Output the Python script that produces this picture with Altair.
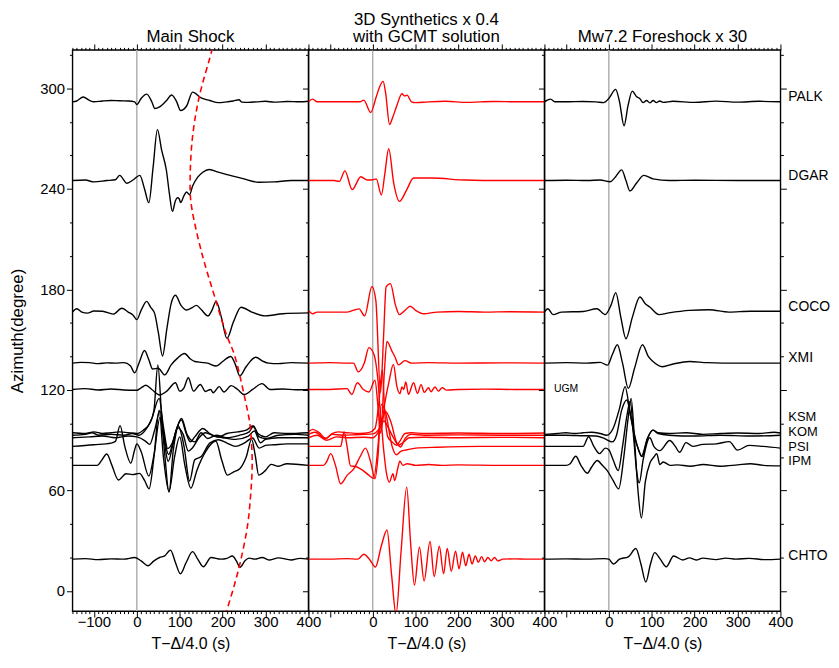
import altair as alt
import pandas as pd

FONT = "Liberation Sans"
W, H = 238, 566

# ---------------- station baselines (azimuth, degree) ----------------
STATIONS = ["PALK", "DGAR", "COCO", "XMI", "UGM", "KSM", "KOM", "KOM_B", "PSI", "IPM", "CHTO"]
BASES = [292, 245, 166.5, 136, 120.3, 94, 93, 91.5, 86.3, 75, 19]

# ---------------- Main shock (black) : time (s), amplitude (degree units) ----------------
PALK_M_T = [-150,-140,-125,-110,-100,-80,-60,-40,-20,-5,0,10,23,35,42,53,70,81,93,102,116,130,150,170,190,210,225,238,245,260,280,300,320,350,380,400]
PALK_M_A = [0,0.5,2.9,0.8,0,0.5,0.8,0.6,0.5,0,-1.7,2,4.6,0,-4,-3,1,4.1,0,-5.2,-2.5,5.8,2.3,0.8,-0.5,0,0.5,1.2,-0.2,-0.3,0,0.3,-0.2,0.2,0,0.3]
DGAR_M_T = [-150,-120,-100,-70,-50,-40,-23,-8,7,18,28,38,48,58,69,76,83,90,95,99,102,110,116,123,130,142,153,169,190,208,245,284,320,360,400]
DGAR_M_A = [0,0.3,-0.8,0,0.5,3.1,-1.6,0.5,3.1,-5,-13.2,8,30.4,18,6,-8,-18.4,-12,-10.3,-11,-13.2,-9,-6.8,-8.5,-3.3,2,4.8,6.6,5,3.7,1.3,-1,-0.8,0,0]
COCO_M_T = [-150,-140,-128,-115,-100,-80,-55,-35,-20,-8,0,10,23,32,42,50,60,70,80,90,103,116,128,139,150,166,175,185,197,210,225,243,268,300,340,400]
COCO_M_A = [0,2,0,-0.6,0.6,0.5,-1.2,2.3,0,-2,-4.5,1,6.4,3,-1.2,-12,-26.2,-10,5,10,4,1.2,2.5,4,1.5,-2.3,1,6.4,-3,-15.7,-6,2.9,0,-2.3,-1,-0.5]
XMI_M_T = [-150,-130,-110,-90,-70,-50,-30,-15,-5,5,18,28,37,50,65,80,95,111,125,135,150,165,185,200,219,230,240,255,277,295,307,330,360,400]
XMI_M_A = [0,0.5,0.3,-0.3,0.2,0,0.3,-1.5,-5.8,0,7.6,2,-3.5,-3,-7,-1,3,5.8,2.5,1,0.5,0,-1.7,1,4,-1,-7.6,-2,3.5,1,0,-0.3,0.3,0]
UGM_M_T = [-150,-120,-90,-60,-30,0,10,21,35,53,70,90,100,110,120,132,148,160,172,178,192,203,220,235,250,270,292,310,340,370,400]
UGM_M_A = [0,0.5,-0.3,0.3,-0.3,-0.5,1,2.5,0,-3.3,-1,4,-1,1,7,-1,3,-1.2,0,-2,1.7,-1.5,2.3,0,-3,0,3.5,0,0.3,-0.2,0]
KSM_M_T = [-150,-120,-100,-80,-60,-40,-20,0,15,30,40,49,58,66,75,85,96,104,115,125,135,154,170,190,210,235,255,270,282,300,320,350,400]
KSM_M_A = [0.5,0,1,0,0.5,1,0.5,0,2,6,14,41,10,-15,-35,-10,5,8,0,-5,-2,3,0,-2,0,1,2,4.5,0,-2,0.5,0,0.5]
KOM_M_T = [-150,-120,-104,-90,-60,-30,-10,5,20,35,52,62,72,82,92,104,118,135,150,165,185,210,240,262,272,285,300,330,370,400]
KOM_M_A = [0,0.5,1.5,0,0.5,0,1,0,3,10,22,5,-8,-5,3,10,0,-4,1.5,-2,0,-1.5,0,2,5.5,-1,-2,0,0.5,0]
KOMB_M_T = [-150,-110,-80,-50,-20,0,20,30,42,54,64,74,85,95,108,120,130,145,160,180,200,230,260,274,288,300,330,400]
KOMB_M_A = [0,0.5,1,0,1,0.5,-2,-4,5,16,0,-10,-2,6,2,-8,-6,0,3,1,0,-1,1,4,-3,-1,0,0]
PSI_M_T = [-150,-100,-60,-50,-39,-28,-14,-5,0,10,28,40,54,64,73,85,96,110,123,135,150,170,190,210,230,250,270,285,300,320,350,400]
PSI_M_A = [0,1,2,3,12.4,0,-10,-2,1.5,-3,-17.7,-5,17.2,3,-9,2,12.5,0,-20.6,-8,-6,2,4,2,0,2,5,-1,0.6,1,1.5,1.5]
IPM_M_T = [-150,-100,-92,-82,-70,-58,-43,-25,-10,6,18,28.5,40,52,62,75,88,100,112,126,140,160,184,198,211,225,240,255,267.5,276,284,300,313,330,350,400]
IPM_M_A = [0,0,0,3,6.8,0,-8.7,-5,-5.5,-4.8,-9,-14,5,33,5,-15.5,5,17,0,-13.6,-3,8,14.5,3,-5.8,-4,-2,5,15.5,6,-5.8,-3,0.6,-0.5,1,0]
CHTO_M_T = [-150,-120,-90,-60,-30,-5,10,26,40,53,65,78.6,90,101.7,115,130,142,155,173,196,210,222.7,232,240.5,252,261.6,275,292,310,330,360,380,400]
CHTO_M_A = [0,0.3,-0.3,0.2,0,1,-1,-3.9,-1,1,2,5.4,-2,-8.7,-2,4.5,0,-4.5,1,0,0.5,1.9,-1,-4.8,-1,0.6,0,1,-0.5,0.8,-0.5,0.5,0]

# ---------------- 3D synthetics (red) ----------------
PALK_S_T = [-150,-140,-130,-100,-60,-30,-21,-5,8,16,24,30,39,46,55,68,74,80,90,100,130,170,220,280,340,400]
PALK_S_A = [0,1.6,0,0,0,0,1,-6.4,3,9,12.2,5,-13.5,-9.5,-3,4.8,3.5,4,0,-0.5,0,0.3,-0.3,0.2,0,0]
DGAR_S_T = [-150,-120,-90,-78,-65,-48,-28,-13,0,8,20,28,37,49,62,79,95,138,215,300,400]
DGAR_S_A = [0,0,0,-0.5,5.8,-5.4,2.3,0.3,0.5,1,-8.6,4,19,-2,-12.4,-5.5,1.5,1.5,0.3,0,0]
COCO_S_T = [-150,-140,-130,-100,-60,-32,-19,-2,7,18,25,31,41,53,62,75,87,100,118,150,200,260,320,400]
COCO_S_A = [1,-1,0,0,0,1.9,-2.3,15.3,7,-48,-15,15,17,4,-1.5,1,3.5,1,-1,0,0.3,0,0.2,0]
XMI_S_T = [-150,-100,-60,-45,-34,-20,-9,3,12,20,27,33,44,52,60,75,90,130,200,300,400]
XMI_S_A = [0,0.3,0,0,-5.2,0,9.3,5,-10,-35,-5,13,7.5,3.5,-1,1.5,0,0.3,0,0.2,0]
UGM_S_T = [-150,-100,-60,-49,-36,-22,-9,5,12,18,28,38,48,56,63,68,72,77,83,95,104,112.5,120,129.5,135.6,145,152.6,161.8,172,200,260,330,400]
UGM_S_A = [0,0,0.5,-3,4,0,-1.5,5.5,-10,-26,-8,5,15,2,-2.5,1.5,0,4.5,-2.9,4,-2.3,2.9,-1.7,1,-1.4,1.5,-1,1,-0.4,0,0.2,0,0]
KSM_S_T = [-150,-140,-125,-109,-95,-80,-60,-30,-10,5,14,22,28,35,45,55,62,75,90,120,200,300,400]
KSM_S_A = [1,2.5,0.5,-3,0,1,0.5,0,0.5,3,18,38,12,-2,-5,-7,-5,0,0.5,0,0.3,0,0.3]
KOM_S_T = [-150,-135,-110,-95,-70,-40,0,15,30,42,55,65,75,90,120,200,300,400]
KOM_S_A = [0.5,1.8,-2,0.5,0,0.3,0.8,4,14,8,-4,-7,-2,0.5,0,0.2,0,0]
KOMB_S_T = [-150,-130,-108,-85,-60,-20,0,12,26,36,48,60,70,85,120,200,300,400]
KOMB_S_A = [0,1.5,-1.5,0.5,0,0.3,0,3,10,6,0,-4.5,-3,0,0.3,0,0.2,0]
PSI_S_T = [-150,-100,-75,-67,-60,-52,-40,-25,-10,2,12,20,30,45,55,65,80,100,150,250,400]
PSI_S_A = [0,0,0,8.7,0,-11.6,-12,-14,-17,-19,0,25,20,0,-5,-3,-2,-1,-0.5,0,0]
IPM_S_T = [-150,-115,-108,-98,-87,-75,-60,-44,-30,-17,-5,5,12,18,25,32,38.6,47,51,58,63,70,80,100,130,160,200,300,400]
IPM_S_A = [0,0,2,7,0,-11,-6,-2,5,10.3,2,-8,5,28,10,-5,-10,-5,-9,-2,2.5,0,1,0,0.5,0,0.3,0,0]
CHTO_S_T = [-150,-100,-60,-35,-21,-8,6,20,33,44,54,66,79,88,97,108.7,119.5,133.4,143,155,165,173.4,183,192.7,201,209,216.6,224.3,231.2,238.9,245.9,253.6,260.5,268.2,275.9,283.6,291.3,303,330,360,400]
CHTO_S_A = [0,0,0.3,0,2.9,0,-4.7,8,17.4,-10,-33,5,43,10,-15.5,7.2,-13,10.6,-10.3,7.7,-8.7,6.4,-7.2,4.8,-5.8,4.2,-3.9,2.9,-2.9,1.9,-1.9,1.5,-1.5,1,-1,1,-1,0,0.2,0,0]

# ---------------- Mw7.2 foreshock x 30 (black) ----------------
PALK_F_T = [-150,-136,-125,-100,-60,-30,-12,0,16,25,35.5,45,54.7,65,72,80,88,95.6,103.3,111,118.7,126.4,150,200,250,300,350,400]
PALK_F_A = [0,1.6,0,0,0.2,0,-0.5,2,7.4,0,-14.3,-2,6.4,3,2,-0.5,0.8,-0.6,0.8,-0.5,0.5,-0.3,0.3,-0.3,0.4,-0.2,0.3,0]
DGAR_F_T = [-150,-100,-50,-20,3,15,30,40,49.3,64.7,81.7,103,141.7,200,300,400]
DGAR_F_A = [0,0.2,0,0.3,-0.7,2,6.4,0,-6.2,-1.5,3.1,1,0,0.2,0,0]
COCO_F_T = [-150,-142,-130,-110,-60,-27.7,-8.5,5,16.2,28,40,55,72.5,85,95.6,117,140,188,234,280,330,400]
COCO_F_A = [0,2,-1.5,0,0.3,2,-1.5,4,11.6,-3,-15.9,-3,9,5,3,-1.5,-0.5,1,1.4,0,0.5,0.5]
XMI_F_T = [-150,-100,-50,-20,-3,8,20,32,45.5,60,78.6,92,103,124.9,150,188,230,300,400]
XMI_F_A = [0,0.3,0,0.5,-1.2,5,11,0,-15,-3,11,4,1,-2.1,-0.5,1,0.3,0,0]
KSM_F_T = [-150,-120,-100,-80,-60,-40,-20,-5,10,25,38,48,60,70,78,90,103,115,140,180,220,260,300,350,385,400]
KSM_F_A = [-0.5,0,0.5,0,0.5,0.8,0,-1,3,15,28,15,-2,-10,-13.8,-3,2,0.5,0,0.5,-0.5,0,0.3,0,0.8,0.3]
KOM_F_T = [-150,-100,-60,-30,-10,8,18,30,42,52,65,76,90,103,115,140,200,260,330,400]
KOM_F_A = [0,0,-0.3,-0.5,-2,-4,0,15,21,10,-5,-12.5,-2,3,1,0,-0.5,0,-0.5,0]
PSI_F_T = [-150,-100,-60,-47,-35,-21.6,-8,0,10,22,32,42,50,58,65,71,80,95.6,105,118.7,142,155,165,180,196,219,250,281,300,327,360,400]
PSI_F_A = [0,0,0,5.8,0,-4.3,-1,-2,-8,-14.4,0,18,27,5,-15,-21.7,-8,5.2,0,-2.5,3.5,0,-3.5,2.3,0,1.2,1.5,2.9,-2.2,0.6,0,-1]
IPM_F_T = [-150,-100,-90,-77,-65,-50,-40,-27,-15,-4,10,23,35,45,52,60,68,76,85,96,105,111.8,119,127,143,160,190,220,260,300,330,360,400]
IPM_F_A = [0,0,1,5.4,0,-4.7,-1,2.9,0,-3,-9,-14,5,28,40,15,-15,-31.4,-10,1.5,5,7,0.5,2,0,0.3,-0.5,0.5,-0.5,0.3,1,0,-0.3]
CHTO_F_T = [-150,-100,-50,-10,0,10.8,25,45.5,63,75,86.3,97,107,120,134,151,172.6,188,203.5,219,249.7,272.8,296,326.8,365,400]
CHTO_F_A = [0,0.2,0,0.3,0,-2.9,0,1.4,6.4,-3,-13.6,-3,3.9,0,-4.5,1.9,-0.5,0.8,-0.5,0.6,-0.3,0.6,0,0.5,-0.3,0]

# ---------------- predicted arrival curve (red dashed, main shock panel) ----------------
DASH_T = [174.5,172.7,145.7,129.5,124.2,128.8,152.6,184.3,207.4,230.5,256.6,265.2,268.9,265.2,257.3,242.1,226.6,210.4,208.5]
DASH_Y = [323.5,320.5,295.3,270.3,244.8,227.5,200.6,173.3,154,138.4,109.3,95.9,76.3,57,37.8,18.2,2.9,-10.9,-12.5]

# ---------------- station labels ----------------
LABEL_NAMES = ["PALK", "DGAR", "COCO", "XMI", "CHTO"]
LABEL_Y = [295, 247.5, 169.4, 139, 21.1]
CLUSTER_NAMES = ["KSM", "KOM", "PSI", "IPM"]
CLUSTER_Y = [104, 95.1, 86.2, 77.3]
UGM_LABEL_T, UGM_LABEL_Y = -128, 120.3

PANEL_TRACES = {
    "main": [("PALK", PALK_M_T, PALK_M_A), ("DGAR", DGAR_M_T, DGAR_M_A), ("COCO", COCO_M_T, COCO_M_A),
             ("XMI", XMI_M_T, XMI_M_A), ("UGM", UGM_M_T, UGM_M_A), ("KSM", KSM_M_T, KSM_M_A),
             ("KOM", KOM_M_T, KOM_M_A), ("KOM_B", KOMB_M_T, KOMB_M_A), ("PSI", PSI_M_T, PSI_M_A),
             ("IPM", IPM_M_T, IPM_M_A), ("CHTO", CHTO_M_T, CHTO_M_A)],
    "syn": [("PALK", PALK_S_T, PALK_S_A), ("DGAR", DGAR_S_T, DGAR_S_A), ("COCO", COCO_S_T, COCO_S_A),
            ("XMI", XMI_S_T, XMI_S_A), ("UGM", UGM_S_T, UGM_S_A), ("KSM", KSM_S_T, KSM_S_A),
            ("KOM", KOM_S_T, KOM_S_A), ("KOM_B", KOMB_S_T, KOMB_S_A), ("PSI", PSI_S_T, PSI_S_A),
            ("IPM", IPM_S_T, IPM_S_A), ("CHTO", CHTO_S_T, CHTO_S_A)],
    "fore": [("PALK", PALK_F_T, PALK_F_A), ("DGAR", DGAR_F_T, DGAR_F_A), ("COCO", COCO_F_T, COCO_F_A),
             ("XMI", XMI_F_T, XMI_F_A), ("KSM", KSM_F_T, KSM_F_A), ("KOM", KOM_F_T, KOM_F_A),
             ("PSI", PSI_F_T, PSI_F_A), ("IPM", IPM_F_T, IPM_F_A), ("CHTO", CHTO_F_T, CHTO_F_A)],
}

base_of = dict(zip(STATIONS, BASES))


def panel_frame(pid):
    rows = []
    for name, ts, amps in PANEL_TRACES[pid]:
        if len(ts) != len(amps):
            raise ValueError(f"{pid} {name}: {len(ts)} vs {len(amps)}")
        for i, (t, a) in enumerate(zip(ts, amps)):
            rows.append({"station": name, "t": t, "y": base_of[name] + a, "idx": i})
    return pd.DataFrame(rows)


XSCALE = alt.Scale(domain=[-150, 400], nice=False, zero=False)
YSCALE = alt.Scale(domain=[-12, 323], nice=False, zero=False)
X_TICKS = list(range(-150, 401, 10))
Y_TICKS = list(range(0, 321, 20))
X_MAJOR = "datum.value % 100 === 0"
Y_MAJOR = "datum.value % 60 === 0"


def x_axis(orient, labels, allow_neg):
    kw = dict(orient=orient, values=X_TICKS, labels=labels, labelOverlap=False, labelFlush=False,
              tickSize={"condition": {"test": X_MAJOR, "value": 6}, "value": 2.5},
              tickColor="black", tickWidth=1, domain=False, grid=False,
              labelFont=FONT, labelFontSize=15, labelColor="black", labelPadding=-2,
              titleFont=FONT, titleFontSize=16, titleFontWeight="normal", titleColor="black",
              titlePadding=6)
    if labels:
        cond = X_MAJOR if allow_neg else X_MAJOR + " && datum.value >= 0"
        kw["labelExpr"] = f"({cond}) ? (datum.value < 0 ? '\u2212' + (-datum.value) : '' + datum.value) : ''"
    return alt.Axis(**kw)


def y_axis(orient, labels):
    kw = dict(orient=orient, values=Y_TICKS, labels=labels, labelOverlap=False, labelFlush=False,
              tickSize={"condition": {"test": Y_MAJOR, "value": 6}, "value": 3},
              tickColor="black", tickWidth=1, domain=False, grid=False,
              labelFont=FONT, labelFontSize=15, labelColor="black", labelPadding=2,
              titleFont=FONT, titleFontSize=17, titleFontWeight="normal", titleColor="black",
              titlePadding=13)
    if labels:
        kw["labelExpr"] = f"({Y_MAJOR}) ? '' + datum.value : ''"
    return alt.Axis(**kw)


def make_panel(pid, color, title, zero_color, zero_width, first=False, last=False):
    d = panel_frame(pid)
    zero = alt.Chart(pd.DataFrame({"t": [0]})).mark_rule(
        color=zero_color, strokeWidth=zero_width).encode(
        x=alt.X("t:Q", scale=XSCALE, axis=None))
    lines = alt.Chart(d).mark_line(
        color=color, strokeWidth=1.4, interpolate="monotone", clip=True).encode(
        x=alt.X("t:Q", scale=XSCALE, axis=x_axis("bottom", True, first), title="T\u2212\u0394/4.0  (s)"),
        y=alt.Y("y:Q", scale=YSCALE, axis=y_axis("left", first),
                title="Azimuth(degree)" if first else None),
        detail="station:N",
        order="idx:Q",
    )
    axes2 = alt.Chart(d).mark_point(opacity=0, clip=True).encode(
        x=alt.X("t:Q", scale=XSCALE, axis=x_axis("top", False, False), title=None),
        y=alt.Y("y:Q", scale=YSCALE, axis=y_axis("right", False) if last else None, title=None),
    )
    layers = [zero, lines, axes2]
    if first:
        dash = pd.DataFrame({"t": DASH_T, "y": DASH_Y, "seq": list(range(len(DASH_T)))})
        layers.append(alt.Chart(dash).mark_line(
            color="#ff0000", strokeDash=[6, 4], strokeWidth=1.6, interpolate="cardinal", clip=True).encode(
            x=alt.X("t:Q", scale=XSCALE, axis=None),
            y=alt.Y("y:Q", scale=YSCALE, axis=None),
            order="seq:Q"))
    if last:
        lab = pd.DataFrame({"name": LABEL_NAMES, "y": LABEL_Y})
        layers.append(alt.Chart(lab).mark_text(
            align="left", baseline="middle", font=FONT, fontSize=14, color="black").encode(
            x=alt.value(W + 8),
            y=alt.Y("y:Q", scale=YSCALE, axis=None),
            text="name:N"))
        clab = pd.DataFrame({"name": CLUSTER_NAMES, "y": CLUSTER_Y})
        layers.append(alt.Chart(clab).mark_text(
            align="left", baseline="middle", font=FONT, fontSize=13, color="black").encode(
            x=alt.value(W + 8),
            y=alt.Y("y:Q", scale=YSCALE, axis=None),
            text="name:N"))
        ugm = pd.DataFrame({"name": ["UGM"], "t": [UGM_LABEL_T], "y": [UGM_LABEL_Y]})
        layers.append(alt.Chart(ugm).mark_text(
            align="left", baseline="middle", font=FONT, fontSize=10.5, color="black").encode(
            x=alt.X("t:Q", scale=XSCALE, axis=None),
            y=alt.Y("y:Q", scale=YSCALE, axis=None),
            text="name:N"))
    return alt.layer(*layers).properties(
        width=W, height=H,
        title=alt.TitleParams(text=title, font=FONT, fontSize=17, fontWeight="normal",
                              color="black", anchor="middle", offset=-3, lineHeight=17.5),
    ).resolve_axis(x="independent", y="independent")


p1 = make_panel("main", "black", "Main Shock", "#b4b4b4", 1.6, first=True)
p2 = make_panel("syn", "#ff0000", ["3D Synthetics x 0.4", "with GCMT solution"], "#8c8c8c", 1.0)
p3 = make_panel("fore", "black", "Mw7.2 Foreshock x 30", "#b4b4b4", 1.6, last=True)

chart = alt.hconcat(p1, p2, p3, spacing=0, bounds="flush").properties(
    padding={"left": 0, "top": -0.5, "right": 0, "bottom": -3},
    background="white",
).configure_view(stroke="black", strokeWidth=1.4)

chart.save("out.html", embed_options={"renderer": "svg", "actions": False})
